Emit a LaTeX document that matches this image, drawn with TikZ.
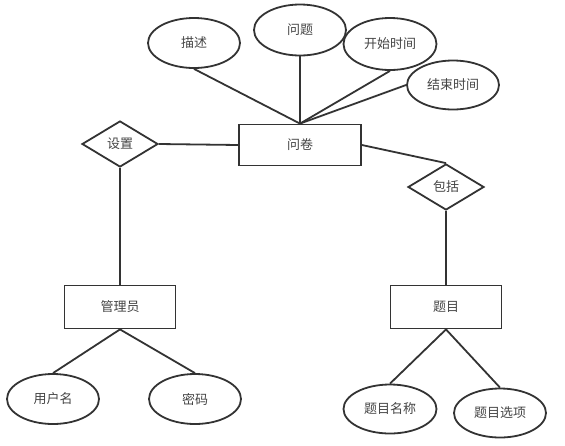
\documentclass[tikz,border=0pt]{standalone}
\usepackage{fontspec}
\usepackage{xcolor}
\usepackage{tikz}
\usetikzlibrary{shapes.geometric}
\usetikzlibrary{positioning}
\newfontfamily\cjk{Noto Sans CJK SC}
\definecolor{erline}{HTML}{333333}
\definecolor{ertext}{HTML}{444444}

\begin{document}
\begin{tikzpicture}[
    x = 1pt,
    y = -1pt,
    font = \cjk\fontsize{13}{15}\selectfont,
    text = ertext,
    entf/.style = {
      rectangle,
      draw=erline,
      line width=1.8pt,
      minimum width=111pt,
      minimum height=43pt,
      inner sep=0pt
    },
    relf/.style = {
      diamond,
      draw=erline,
      line width=1.8pt,
      minimum width=76pt,
      minimum height=46pt,
      inner sep=1pt
    },
    attrf/.style = {
      ellipse,
      draw=erline,
      line width=1.8pt,
      minimum width=92pt,
      minimum height=50pt,
      inner sep=0pt
    },
    linkf/.style = {
      draw=erline,
      line width=1.8pt
    }
  ]
    \useasboundingbox (0,0) rectangle (565,445);

    \node[entf, minimum width=122pt, minimum height=41pt] (survey) at (300,145) {问卷};
    \node[entf] (admin) at (120,307) {管理员};
    \node[entf] (topic) at (446,307) {题目};

    \node[relf] (setup) at (120,144) {设置};
    \node[relf] (incl) at (446,187) {包括};

    \node[attrf] (desc) at (194,43) {描述};
    \node[attrf, minimum height=51pt] (ques) at (300,30) {问题};
    \node[attrf, minimum width=93pt, minimum height=52pt] (start) at (390,44) {开始时间};
    \node[attrf, minimum height=49pt] (finish) at (453,85) {结束时间};
    \node[attrf] (user) at (53,399) {用户名};
    \node[attrf] (pwd) at (195,399) {密码};
    \node[attrf, minimum width=93pt, minimum height=49pt] (tname) at (390,409) {题目名称};
    \node[attrf, minimum height=49pt] (topt) at (500,413) {题目选项};

    \draw[linkf] (desc.south) -- (survey.north);
    \draw[linkf] (ques.south) -- (survey.north);
    \draw[linkf] (start.south) -- (survey.north);
    \draw[linkf] (finish.west) -- (survey.north);

    \draw[linkf] (setup.east) -- (survey.west);
    \draw[linkf] (survey.east) -- (incl.north);
    \draw[linkf] (setup.south) -- (admin.north);
    \draw[linkf] (incl.south) -- (topic.north);

    \draw[linkf] (admin.south) -- (user.north);
    \draw[linkf] (admin.south) -- (pwd.north);
    \draw[linkf] (topic.south) -- (tname.north);
    \draw[linkf] (topic.south) -- (topt.north);

  \end{tikzpicture}
\end{document}
